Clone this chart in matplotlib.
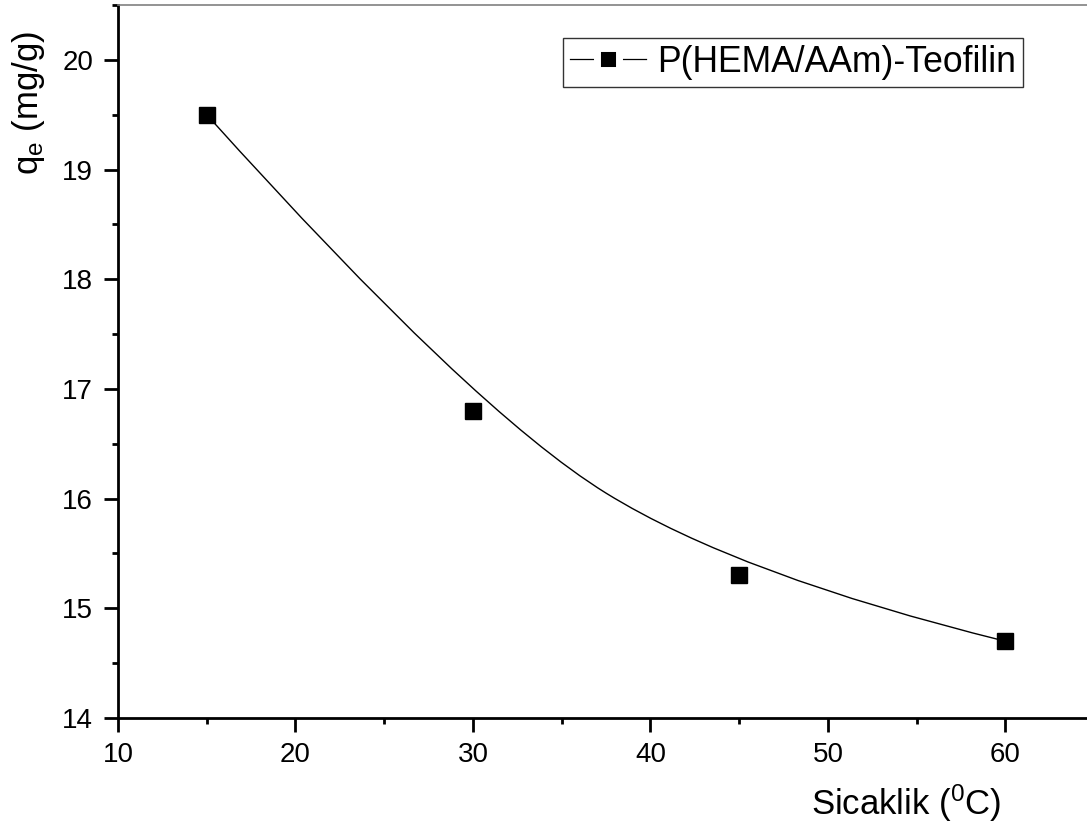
import matplotlib.pyplot as plt
from matplotlib.path import Path
from matplotlib.patches import PathPatch
from matplotlib.lines import Line2D
from matplotlib.ticker import MultipleLocator

plt.rcParams['font.family'] = 'Liberation Sans'
plt.rcParams['mathtext.fontset'] = 'custom'
plt.rcParams['mathtext.rm'] = 'Liberation Sans'
plt.rcParams['mathtext.it'] = 'Liberation Sans'

# Temperature (C) and adsorbed amount (mg/g)
temp = [15, 30, 45, 60]
qe = [19.5, 16.8, 15.3, 14.7]
series_name = 'P(HEMA/AAm)-Teofilin'

fig = plt.figure(figsize=(10.87, 8.23), dpi=100)
ax = fig.add_axes([118 / 1087, 105 / 823, 1 - 118 / 1087, 713 / 823])

# quadratic B-spline using the data points as control points
pts = list(zip(temp, qe))
mid = ((temp[1] + temp[2]) / 2, (qe[1] + qe[2]) / 2)
verts = [pts[0], pts[1], mid, pts[2], pts[3]]
codes = [Path.MOVETO, Path.CURVE3, Path.CURVE3, Path.CURVE3, Path.CURVE3]
ax.add_patch(PathPatch(Path(verts, codes), fill=False, edgecolor='black', lw=1.0))

ax.plot(temp, qe, ls='none', marker='s', ms=11.5, color='black', zorder=3)

ax.set_xlim(10, 64.6)
ax.set_ylim(14, 20.5)
ax.xaxis.set_major_locator(MultipleLocator(10))
ax.xaxis.set_minor_locator(MultipleLocator(5))
ax.yaxis.set_major_locator(MultipleLocator(1))
ax.yaxis.set_minor_locator(MultipleLocator(0.5))
ax.tick_params(which='major', direction='out', length=10, width=2, labelsize=20)
ax.tick_params(axis='x', which='major', pad=7)
ax.tick_params(axis='y', which='major', pad=8)
ax.tick_params(which='minor', direction='out', length=4.5, width=2)

for s in ('left', 'bottom'):
    ax.spines[s].set_linewidth(2)
ax.spines['right'].set_visible(False)
ax.spines['top'].set_color('#808080')
ax.spines['top'].set_linewidth(1.2)

ax.set_xlabel('Sicaklik ($^0$C)', fontsize=25, va='top')
ax.xaxis.set_label_coords(0.813, -0.091)
ax.set_ylabel('q$_\\mathrm{e}$ (mg/g)', fontsize=25)
ax.yaxis.set_label_coords(-0.073, 0.862)

# legend handle: line broken around the square marker (white marker edge)
handle = Line2D([], [], color='black', lw=0.9, marker='s', ms=16,
                mfc='black', mec='white', mew=5)
leg = ax.legend([handle], [series_name],
                loc='upper left', bbox_to_anchor=(0.459, 0.954), fontsize=25.6,
                frameon=True, fancybox=False, edgecolor='black', numpoints=1,
                handlelength=2.15, handletextpad=0.3, borderpad=0.2,
                borderaxespad=0)
leg.get_frame().set_linewidth(1)

fig.savefig('out.png', dpi=100)
